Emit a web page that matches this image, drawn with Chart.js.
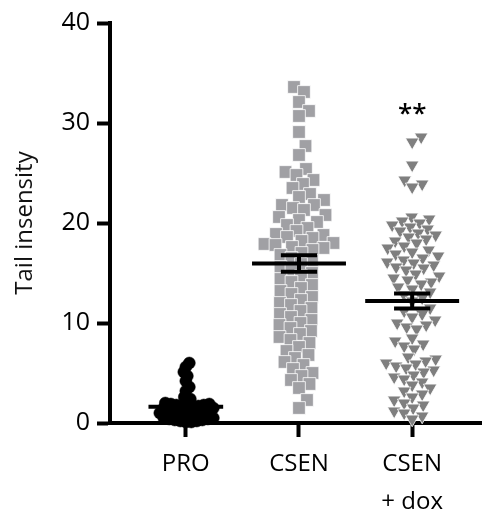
<!DOCTYPE html>
<html><head><meta charset="utf-8">
<script src="https://cdn.jsdelivr.net/npm/chart.js@4/dist/chart.umd.min.js"></script>
<style>html,body{margin:0;padding:0;background:#fff;}#wrap{width:491px;height:513px;}</style>
</head><body><div id="wrap"><canvas id="c" width="491" height="513"></canvas></div>
<script>
// ---- data ----
const categories = ['PRO', 'CSEN', ['CSEN', '+ dox']];
const proValues = [6.0, 5.6, 5.1, 4.7, 4.2, 3.6, 3.2, 2.6, 2.4, 2.1, 2.0, 1.9, 1.9, 1.8, 1.8, 1.7, 1.7,
  1.6, 1.6, 1.5, 1.5, 1.4, 1.4, 1.3, 1.3, 1.2, 1.2, 1.1, 1.1, 1.0, 1.0, 0.9, 0.9, 0.8, 0.8,
  0.7, 0.7, 0.6, 0.6, 0.5, 0.5, 0.4, 0.4, 0.3, 0.3, 0.2, 0.2, 0.1, 0.1];
const csenValues = [33.6, 33.1, 32.1, 31.2, 30.7, 29.1, 27.7, 26.8, 25.4, 25.1, 24.8, 24.3, 23.9, 23.5,
  22.9, 22.6, 22.3, 21.8, 21.8, 21.5, 21.3, 20.8, 20.6, 20.3, 20.1, 19.8, 19.5, 19.2, 18.9, 18.8,
  18.6, 18.5, 18.2, 18.0, 17.9, 17.8, 17.6, 17.5, 17.3, 17.0, 16.8, 16.5, 16.2, 15.9, 15.6, 15.3,
  15.0, 14.7, 14.4, 14.1, 13.8, 13.5, 13.2, 12.9, 12.6, 12.3, 12.0, 11.8, 11.5, 11.2, 10.9, 10.6,
  10.3, 10.0, 9.8, 9.5, 9.2, 8.9, 8.6, 8.3, 8.0, 7.6, 7.2, 6.8, 6.5, 6.1, 5.8, 5.4, 5.0, 4.7, 4.3,
  3.9, 3.5, 2.3, 1.5];
const doxValues = [28.6, 28.1, 25.8, 24.3, 23.9, 23.6, 20.6, 20.4, 20.2, 20.0, 19.8, 19.6, 19.4, 19.2,
  19.0, 18.8, 18.6, 18.4, 18.2, 18.0, 17.7, 17.5, 17.3, 17.1, 16.9, 16.7, 16.5, 16.3, 16.1, 16.0,
  15.8, 15.6, 15.5, 15.3, 14.9, 14.7, 14.5, 14.3, 14.1, 13.9, 13.6, 13.4, 13.1, 12.8, 12.5, 12.2,
  11.5, 11.2, 10.9, 10.6, 10.3, 10.0, 9.8, 9.6, 9.4, 8.5, 8.2, 7.9, 7.7, 7.4, 6.6, 6.4, 6.2, 6.0,
  5.9, 5.7, 5.5, 5.3, 5.1, 4.8, 4.6, 4.4, 4.1, 3.8, 3.5, 3.2, 2.9, 2.6, 2.3, 2.0, 1.8, 1.5, 1.2,
  1.0, 0.7, 0.4];
const yTickValues = [0, 10, 20, 30, 40];
const yAxisTitle = 'Tail insensity';
const sigLabel = '**';
const sigGroup = 3;
const sigValue = 31.5;

const groups = [proValues, csenValues, doxValues];
const FONT = '"Open Sans", "DejaVu Sans", sans-serif';

// ---- styles ----
const groupStyles = [
  { style: 'circle', radius: 6, rotation: 0, color: '#000000', border: '#000000', bw: 0.5, gap: 5.2, meanHalf: 0.33 },
  { style: 'rect', radius: 9, rotation: 0, color: '#a0a0a4', border: '#ffffff', bw: 0.8, gap: 11, meanHalf: 0.415 },
  { style: 'triangle', radius: 7.8, rotation: 180, color: '#7f7f7f', border: '#ffffff', bw: 0.8, gap: 10, meanHalf: 0.415 }
];

const datasets = groups.map((vals, gi) => ({
  label: Array.isArray(categories[gi]) ? categories[gi].join(' ') : categories[gi],
  data: vals.map(v => ({ x: gi + 1, y: v })),
  pointStyle: groupStyles[gi].style,
  pointRadius: groupStyles[gi].radius,
  pointRotation: groupStyles[gi].rotation,
  backgroundColor: groupStyles[gi].color,
  borderColor: groupStyles[gi].border,
  pointBorderWidth: groupStyles[gi].bw,
  clip: false
}));

const meanPlugin = {
  id: 'meanSem',
  afterDatasetsDraw(chart) {
    const { ctx } = chart;
    const xs = chart.scales.x, ys = chart.scales.y;
    const unit = xs.getPixelForValue(2) - xs.getPixelForValue(1);
    ctx.save();
    ctx.strokeStyle = '#000';
    ctx.lineWidth = 4;
    ctx.lineCap = 'butt';
    groups.forEach((vals, gi) => {
      const n = vals.length;
      const mean = vals.reduce((a, b) => a + b, 0) / n;
      const sd = Math.sqrt(vals.reduce((a, b) => a + (b - mean) * (b - mean), 0) / (n - 1));
      const sem = sd / Math.sqrt(n);
      const cx = xs.getPixelForValue(gi + 1);
      const hw = groupStyles[gi].meanHalf * unit;
      const cap = 0.16 * unit;
      const yM = ys.getPixelForValue(mean), yT = ys.getPixelForValue(mean + sem), yB = ys.getPixelForValue(mean - sem);
      ctx.beginPath();
      ctx.moveTo(cx - hw, yM); ctx.lineTo(cx + hw, yM);
      ctx.moveTo(cx, yT); ctx.lineTo(cx, yB);
      ctx.moveTo(cx - cap, yT); ctx.lineTo(cx + cap, yT);
      ctx.moveTo(cx - cap, yB); ctx.lineTo(cx + cap, yB);
      ctx.stroke();
    });
    // significance marker
    ctx.fillStyle = '#000';
    ctx.font = '600 26px ' + FONT;
    ctx.textAlign = 'center';
    ctx.textBaseline = 'alphabetic';
    ctx.fillText(sigLabel, xs.getPixelForValue(sigGroup), ys.getPixelForValue(sigValue) + 14);
    ctx.restore();
  }
};

const chart = new Chart(document.getElementById('c'), {
  type: 'scatter',
  data: { datasets },
  plugins: [meanPlugin],
  options: {
    responsive: false,
    animation: false,
    devicePixelRatio: 1,
    events: [],
    layout: { padding: { top: 23, right: 0, bottom: 0, left: 0 } },
    plugins: { legend: { display: false }, tooltip: { enabled: false } },
    scales: {
      x: {
        type: 'linear',
        min: 0.33, max: 3.61,
        afterFit(s) { s.height = 90; },
        afterBuildTicks(s) { s.ticks = categories.map((c, i) => ({ value: i + 1 })); },
        ticks: {
          autoSkip: false, maxRotation: 0, padding: 8, color: '#000',
          font: { family: FONT, size: 24, lineHeight: 1.58 },
          callback: (v) => categories[Math.round(v) - 1]
        },
        grid: { drawOnChartArea: false, drawTicks: true, tickLength: 14, tickWidth: 4, tickColor: '#000' },
        border: { display: true, width: 4, color: '#000' }
      },
      y: {
        min: 0, max: 40,
        afterFit(s) { s.width = 110; },
        afterBuildTicks(s) { s.ticks = yTickValues.map(v => ({ value: v })); },
        ticks: { padding: 7, color: '#000', font: { family: FONT, size: 25 } },
        grid: { drawOnChartArea: false, drawTicks: true, tickLength: 13, tickWidth: 4, tickColor: '#000' },
        border: { display: true, width: 4, color: '#000' },
        title: { display: true, text: yAxisTitle, color: '#111', font: { family: FONT, size: 24 }, padding: { top: 11, bottom: 0 } }
      }
    }
  }
});

// beeswarm layout (deterministic, derived from values and the chart's scales)
function swarm(chart) {
  const xs = chart.scales.x, ys = chart.scales.y;
  const unit = xs.getPixelForValue(2) - xs.getPixelForValue(1);
  chart.data.datasets.forEach((ds, gi) => {
    const vals = groups[gi];
    const minD = groupStyles[gi].gap;
    const order = vals.map((v, i) => i).sort((a, b) => vals[a] - vals[b]);
    const placed = [];
    const out = new Array(vals.length);
    order.forEach(i => {
      const py = ys.getPixelForValue(vals[i]);
      let dx = 0;
      for (let k = 0; k < 800; k++) {
        const cand = (k % 2 === 1 ? 1 : -1) * Math.ceil(k / 2) * 0.5;
        let ok = true;
        for (const p of placed) {
          const ddy = py - p.py;
          if (Math.abs(ddy) >= minD) continue;
          const ddx = cand - p.dx;
          if (ddx * ddx + ddy * ddy < minD * minD) { ok = false; break; }
        }
        if (ok) { dx = cand; break; }
      }
      placed.push({ dx, py });
      out[i] = { x: gi + 1 + dx / unit, y: vals[i] };
    });
    ds.data = out;
  });
  chart.update('none');
}
swarm(chart);
</script></body></html>
